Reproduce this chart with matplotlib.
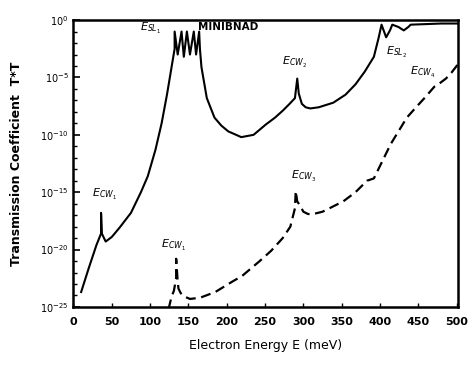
import numpy as np
import matplotlib
matplotlib.use("Agg")
import matplotlib.pyplot as plt
from matplotlib.ticker import FixedLocator, FixedFormatter

# solid curve: energy (meV) and log10 of transmission
solid_E = [10, 20, 30, 36, 36, 37, 42, 50, 60, 75, 88, 97, 107, 115, 122, 128, 132,
           132, 136, 141, 144, 148, 152, 157, 160, 164, 165,
           167, 174, 184, 193, 202, 219, 235, 251, 263, 273, 282, 289,
           292, 294, 298, 303, 309, 320, 339, 355, 368, 380, 392, 398,
           402, 408, 413, 416, 424, 431, 437, 440, 460, 480, 502]
solid_logT = [-23.7, -21.6, -19.6, -18.6, -16.8, -18.6, -19.3, -18.9, -18.1, -16.8, -15.0, -13.6, -11.3, -9.0, -6.5, -4.1, -2.5,
              -1.0, -3.0, -1.0, -3.2, -1.0, -3.0, -1.0, -3.0, -1.0, -2.5,
              -4.1, -6.8, -8.5, -9.2, -9.7, -10.2, -10.0, -9.1, -8.5, -7.9, -7.3, -6.8,
              -5.1, -6.4, -7.3, -7.6, -7.7, -7.6, -7.2, -6.5, -5.6, -4.5, -3.2, -1.6,
              -0.4, -1.5, -0.9, -0.4, -0.6, -0.9, -0.6, -0.4, -0.35, -0.3, -0.3]

# dashed curve
dashed_E = [124, 128, 131, 134, 134, 136, 137, 140, 145, 152, 165, 185, 207, 220, 243, 258, 273, 283, 289,
            290, 292, 295, 300, 306, 313, 325, 340, 352, 368, 383, 392, 403, 414, 425, 435, 447, 458,
            471, 476, 480, 486, 493, 500, 506]
dashed_logT = [-25.2, -24.1, -23.6, -22.5, -20.8, -22.8, -23.4, -23.8, -24.1, -24.3, -24.2, -23.7, -22.8, -22.3, -21.0, -20.1, -19.0, -18.0, -16.4,
               -14.9, -15.8, -16.1, -16.7, -16.9, -16.9, -16.7, -16.2, -15.8, -15.0, -14.0, -13.8, -12.3, -10.8, -9.6, -8.5, -7.6, -6.8,
               -5.8, -5.6, -5.4, -5.1, -4.6, -4.0, -3.2]

x_ticks = [0, 50, 100, 150, 200, 250, 300, 350, 400, 450, 500]
y_ticks = [1e-25, 1e-20, 1e-15, 1e-10, 1e-5, 1e0]
y_labels = ["$10^{-25}$", "$10^{-20}$", "$10^{-15}$", "$10^{-10}$", "$10^{-5}$", "$10^{0}$"]

fig = plt.figure(figsize=(4.68, 3.65), dpi=100)
ax = fig.add_axes([0.157, 0.159, 0.822, 0.786])

ax.semilogy(solid_E, 10.0 ** np.array(solid_logT), color="black", lw=1.5)
ax.semilogy(dashed_E, 10.0 ** np.array(dashed_logT), color="black", lw=1.6,
            linestyle=(0, (4.5, 2.5)))

ax.set_xlim(0, 502)
ax.set_ylim(1e-25, 1e0)

ax.yaxis.set_major_locator(FixedLocator(y_ticks))
ax.yaxis.set_major_formatter(FixedFormatter(y_labels))
ax.yaxis.set_minor_locator(FixedLocator([10.0 ** k for k in range(-25, 1)]))
ax.yaxis.set_minor_formatter(FixedFormatter([""] * 26))
ax.set_xticks(x_ticks)
ax.tick_params(axis="y", which="major", direction="in", length=5, width=1.2, labelsize=7)
ax.tick_params(axis="y", which="minor", direction="in", length=3, width=1.0)
ax.tick_params(axis="x", which="major", direction="in", length=3, width=1.0, labelsize=8, pad=7)
for lab in ax.get_xticklabels() + ax.get_yticklabels():
    lab.set_fontweight("bold")

for s in ax.spines.values():
    s.set_linewidth(1.8)

ax.set_xlabel("Electron Energy E (meV)", fontsize=9, labelpad=9)
ax.set_ylabel("Transmission Coefficient  T*T", fontsize=9, fontweight="bold", labelpad=12)

# annotations
fs = 8
ax.text(101, 10 ** -0.7, "$E_{SL_1}$", fontsize=fs, ha="center", va="center")
ax.text(162, 10 ** -0.6, "MINIBNAD", fontsize=7.5, ha="left", va="center", fontweight="bold")
ax.text(289, 10 ** -3.7, "$E_{CW_2}$", fontsize=fs, ha="center", va="center")
ax.text(422, 10 ** -2.8, "$E_{SL_2}$", fontsize=fs, ha="center", va="center")
ax.text(455, 10 ** -4.6, "$E_{CW_4}$", fontsize=fs, ha="center", va="center")
ax.text(41, 10 ** -15.2, "$E_{CW_1}$", fontsize=fs, ha="center", va="center")
ax.text(131, 10 ** -19.6, "$E_{CW_1}$", fontsize=fs, ha="center", va="center")
ax.text(300, 10 ** -13.6, "$E_{CW_3}$", fontsize=fs, ha="center", va="center")

fig.savefig("out.png", dpi=100)
